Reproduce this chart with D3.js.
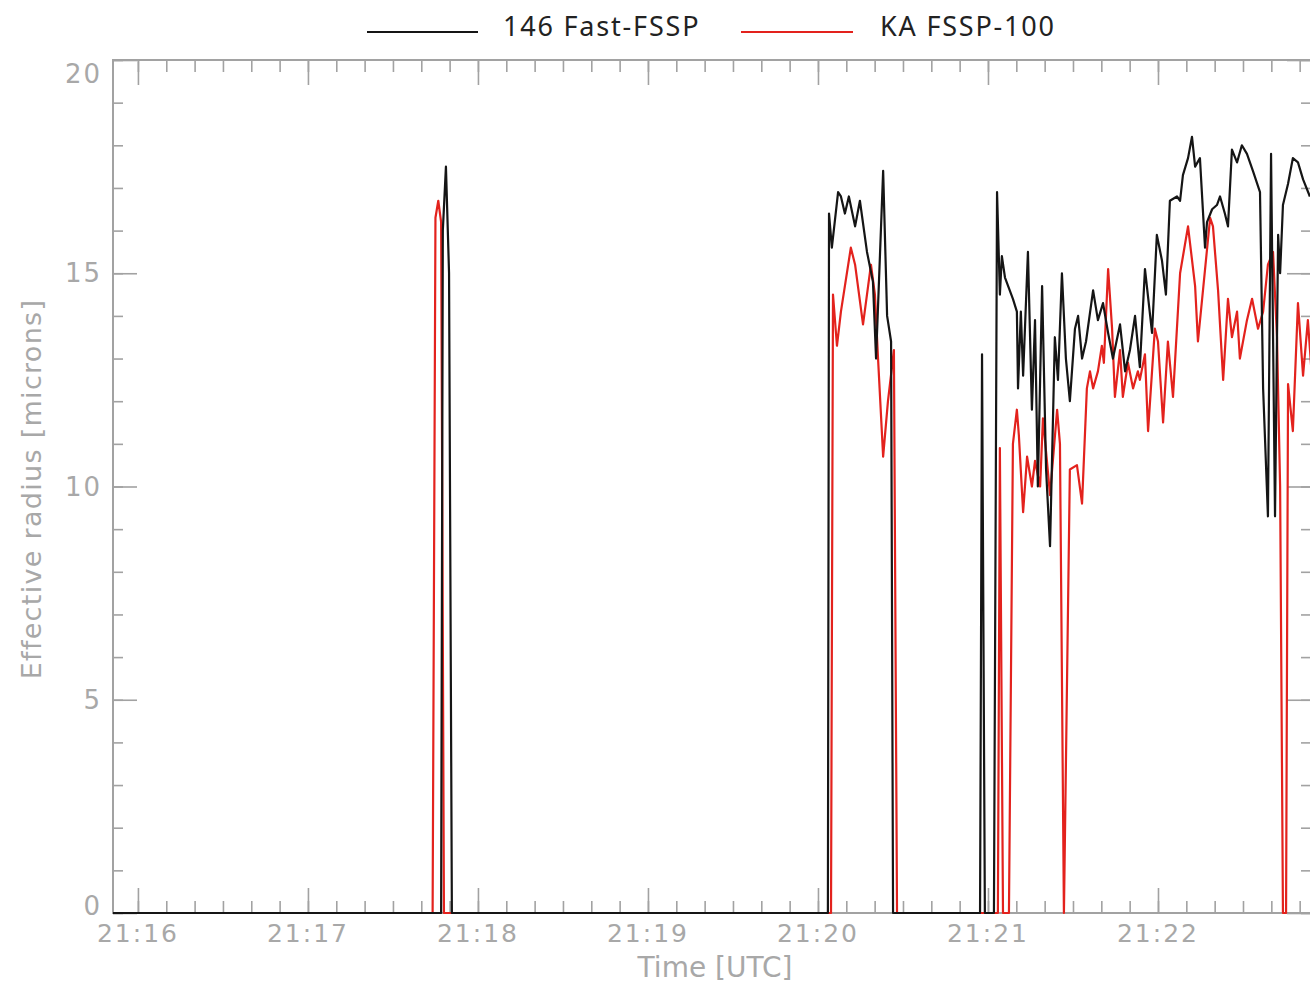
<!DOCTYPE html>
<html>
<head>
<meta charset="utf-8">
<script src="https://cdn.jsdelivr.net/npm/d3@7"></script>
<style>
  body { margin: 0; background: #fff; }
  svg { display: block; }
</style>
</head>
<body>
<div id="chart"></div>
<script>
// time in seconds after 21:16:00 UTC, effective radius in microns
const fastTimes = [
  -9, 107, 107.6, 108.7, 109.8, 110.8,
  243.5, 243.9, 244.9, 247.1, 248.1, 249.5, 250.9, 253.1, 254.8, 257.3, 259.4, 260.5, 263.0, 264.4, 265.8, 266.5,
  297.2, 297.9, 298.9, 302.1,
  303.2, 304.2, 304.9, 306.0, 308.8, 310.2, 310.6, 311.6, 312.4,
  314.1, 315.5, 316.6, 317.6, 319.1, 320.5, 321.9, 323.6, 324.7, 326.1,
  327.5, 328.9, 330.7, 331.8, 333.2, 334.6, 337.1, 338.8, 340.6, 342.4,
  344.1, 346.6, 348.4, 350.1, 351.9, 353.6, 355.4, 357.9, 359.6, 361.4,
  362.8, 364.2, 366.7, 367.8, 368.8, 370.6, 372.0, 373.1, 374.8, 376.6,
  377.3, 379.1, 380.8, 381.9, 383.6, 384.7, 386.1, 387.9, 389.6, 391.4,
  393.5, 396.0, 397.1, 398.8, 399.9, 401.3, 402.4, 403.1, 404.1, 405.9,
  407.6, 409.4, 411.2, 413.6
];
const fastValues = [
  0, 0, 16.0, 17.5, 15.0, 0,
  0, 16.4, 15.6, 16.9, 16.8, 16.4, 16.8, 16.1, 16.7, 15.5, 14.8, 13.0, 17.4, 14.0, 13.4, 0,
  0, 13.1, 0, 0,
  16.9, 14.5, 15.4, 14.9, 14.4, 14.1, 12.3, 14.1, 12.6,
  15.5, 11.8, 13.9, 10.0, 14.7, 10.4, 8.6, 13.5, 12.5, 15.0,
  13.0, 12.0, 13.7, 14.0, 13.0, 13.4, 14.6, 13.9, 14.3, 13.6,
  13.0, 13.8, 12.7, 13.2, 14.0, 12.8, 15.1, 13.6, 15.9, 15.3,
  14.5, 16.7, 16.8, 16.7, 17.3, 17.7, 18.2, 17.5, 17.7, 15.6,
  16.2, 16.5, 16.6, 16.8, 16.4, 16.1, 17.9, 17.6, 18.0, 17.8,
  17.4, 16.9, 12.3, 9.3, 17.8, 9.3, 15.9, 15.0, 16.6, 17.1,
  17.7, 17.6, 17.2, 16.8
];
const kaTimes = [
  -9, 104.0, 105.0, 106.0, 107.0, 108.0,
  244.6, 245.3, 246.7, 248.1, 251.6, 253.1, 255.9, 258.7, 260.1, 261.2, 263.0, 264.7, 266.8, 267.9,
  303.5, 304.2, 305.3, 307.4, 308.8, 310.2, 310.9, 312.4, 313.8, 315.5,
  316.6, 318.4, 319.4, 320.8, 321.9, 324.4, 325.4, 326.8, 328.9, 331.4,
  333.2, 334.9, 336.0, 337.1, 338.8, 340.2, 340.9, 342.4, 343.8, 344.8,
  346.6, 347.6, 349.4, 351.2, 352.9, 353.6, 355.4, 356.5, 358.9, 360.0,
  361.8, 363.5, 365.3, 367.8, 370.6, 373.1, 374.1, 378.4, 379.4, 381.2,
  383.0, 384.7, 386.1, 387.9, 388.9, 391.4, 393.2, 395.3, 397.1, 398.8,
  400.6, 402.0, 403.1, 404.1, 405.2, 405.9, 407.6, 409.4, 411.2, 412.9,
  414.4
];
const kaValues = [
  0, 0, 16.3, 16.7, 16.2, 0,
  0, 14.5, 13.3, 14.1, 15.6, 15.2, 13.8, 15.2, 14.5, 13.0, 10.7, 12.0, 13.2, 0,
  0, 10.9, 0, 0, 11.0, 11.8, 11.2, 9.4, 10.7, 10.0,
  10.6, 10.0, 11.6, 10.6, 9.8, 11.8, 11.0, 0, 10.4, 10.5,
  9.6, 12.3, 12.7, 12.3, 12.7, 13.3, 12.9, 15.1, 13.7, 12.1,
  13.2, 12.1, 12.9, 12.3, 12.7, 12.5, 13.1, 11.3, 13.7, 13.4,
  11.5, 13.4, 12.1, 15.0, 16.1, 14.7, 13.4, 16.3, 16.1, 14.6,
  12.5, 14.4, 13.5, 14.1, 13.0, 13.9, 14.4, 13.7, 14.1, 15.2,
  15.5, 13.5, 10.0, 0, 0, 12.4, 11.3, 14.3, 12.6, 13.9,
  12.5
];
const seriesNames = ["146 Fast-FSSP", "KA FSSP-100"];
const yMajorTicks = [0, 5, 10, 15, 20];

const width = 1310, height = 991;
const margin = { top: 60, right: -1, bottom: 78, left: 113 };
const axisColor = "#a2a2a2";
const textColor = "#a8a8a8";
const labelFont = "'DejaVu Sans', sans-serif";

const t0 = Date.UTC(2000, 0, 1, 21, 16, 0);
const toDate = (s) => new Date(t0 + s * 1000);

const svg = d3.select("#chart")
  .append("svg")
  .attr("width", width)
  .attr("height", height);

const x = d3.scaleUtc()
  .domain([toDate(-8.8), toDate(414)])
  .range([margin.left, width - margin.right]);

const y = d3.scaleLinear()
  .domain([0, 20])
  .range([height - margin.bottom, margin.top]);

const cleanAxis = (g) => {
  g.select(".domain").remove();
  g.selectAll("line").attr("stroke", axisColor).attr("stroke-width", 1.6);
};

// frame
svg.append("rect")
  .attr("x", x.range()[0])
  .attr("y", y(20))
  .attr("width", x.range()[1] - x.range()[0])
  .attr("height", y(0) - y(20))
  .attr("fill", "none")
  .attr("stroke", axisColor)
  .attr("stroke-width", 2);

//x ticks bottom and top, minor every 10 s, major every minute
svg.append("g").attr("transform", `translate(0,${y(0)})`)
  .call(d3.axisTop(x).ticks(d3.utcSecond.every(10)).tickSize(12).tickFormat(""))
  .call(cleanAxis);
svg.append("g").attr("transform", `translate(0,${y(0)})`)
  .call(d3.axisTop(x).ticks(d3.utcMinute.every(1)).tickSize(25).tickFormat(""))
  .call(cleanAxis);
svg.append("g").attr("transform", `translate(0,${y(20)})`)
  .call(d3.axisBottom(x).ticks(d3.utcSecond.every(10)).tickSize(12).tickFormat(""))
  .call(cleanAxis);
svg.append("g").attr("transform", `translate(0,${y(20)})`)
  .call(d3.axisBottom(x).ticks(d3.utcMinute.every(1)).tickSize(25).tickFormat(""))
  .call(cleanAxis);

//y ticks left and right
svg.append("g").attr("transform", `translate(${x.range()[0]},0)`)
  .call(d3.axisRight(y).ticks(20).tickSize(10).tickFormat(""))
  .call(cleanAxis);
svg.append("g").attr("transform", `translate(${x.range()[0]},0)`)
  .call(d3.axisRight(y).tickValues(yMajorTicks).tickSize(24).tickFormat(""))
  .call(cleanAxis);
svg.append("g").attr("transform", `translate(${x.range()[1]},0)`)
  .call(d3.axisLeft(y).ticks(20).tickSize(10).tickFormat(""))
  .call(cleanAxis);
svg.append("g").attr("transform", `translate(${x.range()[1]},0)`)
  .call(d3.axisLeft(y).tickValues(yMajorTicks).tickSize(24).tickFormat(""))
  .call(cleanAxis);

// tick labels
const fmt = d3.utcFormat("%H:%M");
svg.append("g")
  .selectAll("text")
  .data(x.ticks(d3.utcMinute.every(1)))
  .enter()
  .append("text")
  .attr("x", (d) => x(d))
  .attr("y", y(0) + 29)
  .attr("text-anchor", "middle")
  .attr("font-family", labelFont)
  .attr("font-size", 25)
  .attr("letter-spacing", 2)
  .attr("fill", textColor)
  .text(fmt);

svg.append("g")
  .selectAll("text")
  .data(yMajorTicks)
  .enter()
  .append("text")
  .attr("x", x.range()[0] - 11)
  .attr("y", (d) => y(d) + (d === 20 ? 23 : d === 0 ? 2 : 9))
  .attr("text-anchor", "end")
  .attr("font-family", labelFont)
  .attr("font-size", 26)
  .attr("letter-spacing", 2)
  .attr("fill", textColor)
  .text((d) => d);

// axis titles
svg.append("text")
  .attr("x", 715)
  .attr("y", 977)
  .attr("text-anchor", "middle")
  .attr("font-family", labelFont)
  .attr("font-size", 28)
  .attr("fill", textColor)
  .text("Time [UTC]");

svg.append("text")
  .attr("transform", "translate(41,489) rotate(-90)")
  .attr("text-anchor", "middle")
  .attr("font-family", labelFont)
  .attr("font-size", 27)
  .attr("letter-spacing", 1.3)
  .attr("fill", textColor)
  .text("Effective radius [microns]");

// lines
svg.append("clipPath").attr("id", "plotClip")
  .append("rect")
  .attr("x", x.range()[0])
  .attr("y", y(20) - 5)
  .attr("width", x.range()[1] - x.range()[0])
  .attr("height", y(0) - y(20) + 10);

const line = d3.line()
  .x((d) => x(toDate(d[0])))
  .y((d) => y(d[1]));

const series = [
  { name: seriesNames[1], color: "#e3221d", pts: d3.zip(kaTimes, kaValues) },
  { name: seriesNames[0], color: "#151515", pts: d3.zip(fastTimes, fastValues) },
];

svg.append("g")
  .attr("clip-path", "url(#plotClip)")
  .selectAll("path")
  .data(series)
  .enter()
  .append("path")
  .attr("fill", "none")
  .attr("stroke", (d) => d.color)
  .attr("stroke-width", 2.2)
  .attr("stroke-linejoin", "round")
  .attr("d", (d) => line(d.pts));

// legend
const legend = [
  { name: seriesNames[0], color: "#151515", x0: 367, x1: 478, tx: 503 },
  { name: seriesNames[1], color: "#e3221d", x0: 741, x1: 853, tx: 880 },
];
const lg = svg.append("g").selectAll("g").data(legend).enter().append("g");
lg.append("line")
  .attr("x1", (d) => d.x0)
  .attr("x2", (d) => d.x1)
  .attr("y1", 32)
  .attr("y2", 32)
  .attr("stroke", (d) => d.color)
  .attr("stroke-width", 2);
lg.append("text")
  .attr("x", (d) => d.tx)
  .attr("y", 36)
  .attr("font-family", "'Noto Sans', sans-serif")
  .attr("font-size", 27)
  .attr("letter-spacing", 1.8)
  .attr("fill", "#222")
  .text((d) => d.name);
</script>
</body>
</html>
